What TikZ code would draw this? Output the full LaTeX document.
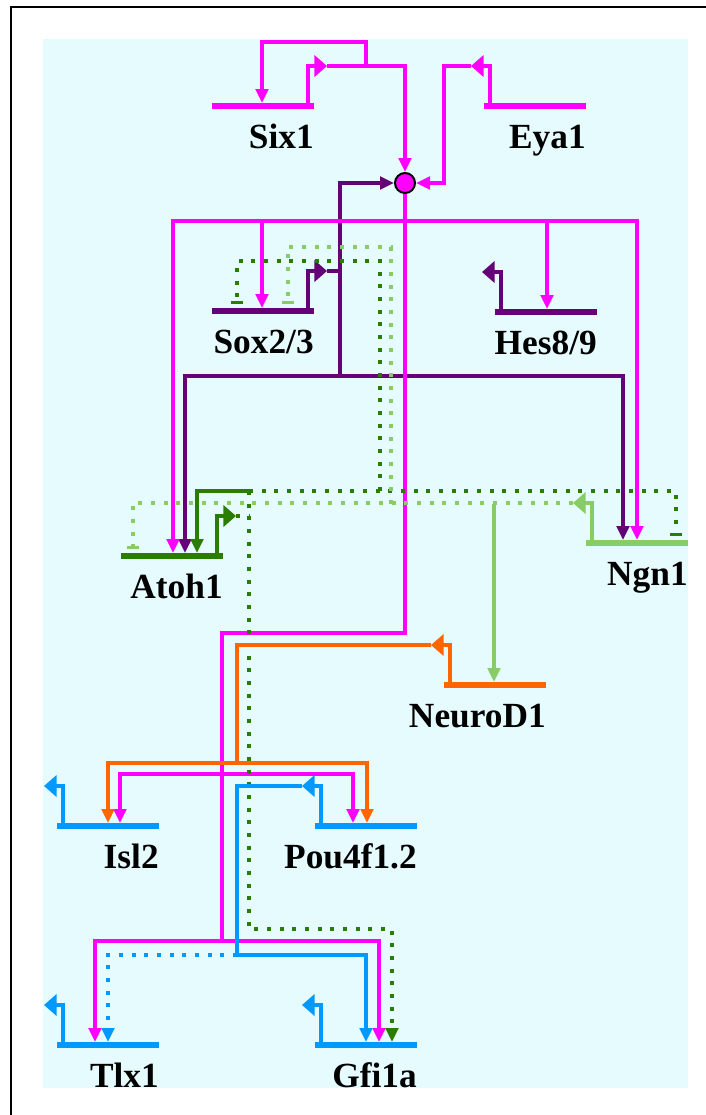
\documentclass[tikz,border=0pt]{standalone}
\usepackage{fontspec}
\setmainfont{Liberation Serif}
\usetikzlibrary{arrows.meta,calc}
\definecolor{grnmag}{HTML}{FF00FF}
\definecolor{grnpur}{HTML}{660077}
\definecolor{grndkg}{HTML}{2A7D00}
\definecolor{grnltg}{HTML}{88CC66}
\definecolor{grnorg}{HTML}{FF6600}
\definecolor{grnblu}{HTML}{0099FF}
\definecolor{grnbg}{HTML}{E6FBFE}
\tikzset{
  genebar/.style={fill=#1, inner sep=0pt, outer sep=0pt, minimum width=76.5pt, minimum height=4.5pt, anchor=west},
  promoter/.style={draw=#1, line width=3.4pt, -{Triangle[length=9.5pt,width=16pt]}},
  genelabel/.style={anchor=base east, inner sep=0pt, font=\fontsize{26.5}{30}\selectfont\bfseries},
  link/.style={line width=2.5pt},
  actlink/.style={link, -{Triangle[length=10.5pt,width=9.5pt]}},
  replink/.style={link, -{Bar[width=9pt]}, shorten >=3pt},
  dotlink/.style={dash pattern=on 3pt off 6.5pt},
  hub/.style={circle, draw=black, line width=1.5pt, fill=grnmag, minimum size=15pt, inner sep=0pt}
}
\begin{document}
\begin{tikzpicture}[x=0.75pt, y=-0.75pt]
  \useasboundingbox (0,0) rectangle (706,1115);
  \fill[grnbg] (43,39) rectangle (688,1088);
  \draw[line width=1pt] (706,7) -- (11,7) -- (11,1115);

  \node[genebar=grnmag] (six1) at (212,106) {};
  \node[genebar=grnmag] (eya1) at (484,106) {};
  \node[genebar=grnpur] (sox) at (212,311) {};
  \node[genebar=grnpur] (hes) at (495,312) {};
  \node[genebar=grndkg] (atoh1) at (121,556) {};
  \node[genebar=grnltg] (ngn1) at (586,543) {};
  \node[genebar=grnorg] (neurod1) at (444,685) {};
  \node[genebar=grnblu] (isl2) at (57,826) {};
  \node[genebar=grnblu] (pou) at (315,826) {};
  \node[genebar=grnblu] (tlx1) at (57,1045) {};
  \node[genebar=grnblu] (gfi1a) at (315,1045) {};
  \node[hub] (cir) at (405,183) {};

  \draw[promoter=grnmag] (six1.east) ++(-6,0) |- ++(19,-40) coordinate (six1-out);
  \draw[promoter=grnmag] (eya1.west) ++(6,0) |- ++(-19,-40) coordinate (eya1-out);
  \draw[promoter=grnpur] (sox.east) ++(-6,0) |- ++(19,-40) coordinate (sox-out);
  \draw[promoter=grnpur] (hes.west) ++(6,0) |- ++(-19,-40) coordinate (hes-out);
  \draw[promoter=grndkg] (atoh1.east) ++(-6,0) |- ++(19,-40) coordinate (atoh1-out);
  \draw[promoter=grnltg] (ngn1.west) ++(6,0) |- ++(-19,-40) coordinate (ngn1-out);
  \draw[promoter=grnorg] (neurod1.west) ++(6,0) |- ++(-19,-40) coordinate (neurod1-out);
  \draw[promoter=grnblu] (isl2.west) ++(6,0) |- ++(-19,-40) coordinate (isl2-out);
  \draw[promoter=grnblu] (pou.west) ++(6,0) |- ++(-19,-40) coordinate (pou-out);
  \draw[promoter=grnblu] (tlx1.west) ++(6,0) |- ++(-19,-40) coordinate (tlx1-out);
  \draw[promoter=grnblu] (gfi1a.west) ++(6,0) |- ++(-19,-40) coordinate (gfi1a-out);

  \node[genelabel] (six1-lbl) at ($(six1.east)+(0,42)$) {Six1};
  \node[genelabel] (eya1-lbl) at ($(eya1.east)+(0,42)$) {Eya1};
  \node[genelabel] (sox-lbl) at ($(sox.east)+(0,42)$) {Sox2/3};
  \node[genelabel] (hes-lbl) at ($(hes.east)+(0,42)$) {Hes8/9};
  \node[genelabel] (atoh1-lbl) at ($(atoh1.east)+(0,42)$) {Atoh1};
  \node[genelabel] (ngn1-lbl) at ($(ngn1.east)+(0,42)$) {Ngn1};
  \node[genelabel] (neurod1-lbl) at ($(neurod1.east)+(0,42)$) {NeuroD1};
  \node[genelabel] (isl2-lbl) at ($(isl2.east)+(0,42)$) {Isl2};
  \node[genelabel] (pou-lbl) at ($(pou.east)+(0,42)$) {Pou4f1.2};
  \node[genelabel] (tlx1-lbl) at ($(tlx1.east)+(0,42)$) {Tlx1};
  \node[genelabel] (gfi1a-lbl) at ($(gfi1a.east)+(0,42)$) {Gfi1a};

  \draw[actlink, grnmag] (six1-out) -| (cir.north);
  \draw[actlink, grnmag] (366,66) -- (366,42) -| (262,0 |- six1.north);
  \draw[actlink, grnmag] (eya1-out) -- ++(-27,0) |- (cir.east);

  \draw[link, grnpur] (sox-out) -- (340,0 |- sox-out);
  \draw[actlink, grnpur] (340,376) |- (cir.west);
  \draw[actlink, grnpur] (340,376) -| (185,0 |- atoh1.north);
  \draw[actlink, grnpur] (340,376) -| (623,0 |- ngn1.north);

  \draw[link, grnmag] (cir.south) |- (222,633) -- (222,941);
  \draw[actlink, grnmag] (405,221) -| (173,0 |- atoh1.north);
  \draw[actlink, grnmag] (405,221) -| (637,0 |- ngn1.north);
  \draw[actlink, grnmag] (262,221) -- (262,0 |- sox.north);
  \draw[actlink, grnmag] (547,221) -- (547,0 |- hes.north);
  \draw[actlink, grnmag] (222,774) -| (120,0 |- isl2.north);
  \draw[actlink, grnmag] (222,774) -| (353,0 |- pou.north);
  \draw[actlink, grnmag] (222,941) -| (95,0 |- tlx1.north);
  \draw[actlink, grnmag] (222,941) -| (379,0 |- gfi1a.north);

  \draw[link, grndkg, dotlink] (atoh1-out) -- (249,0 |- atoh1-out);
  \draw[actlink, grndkg] (249,491) -| (197,0 |- atoh1.north);
  \draw[replink, grndkg, dotlink] (249,491) -| (676,0 |- ngn1.north);
  \draw[replink, grndkg, dotlink] (380,491) |- (237,261) -- (237,0 |- sox.north);
  \draw[actlink, grndkg, dotlink] (249,491) |- (392,929) -- (392,0 |- gfi1a.north);

  \draw[replink, grnltg, dotlink] (ngn1-out) -| (133,0 |- atoh1.north);
  \draw[replink, grnltg, dotlink] (391,504) |- (288,247) -- (288,0 |- sox.north);
  \draw[actlink, grnltg] (494,504) -- (494,0 |- neurod1.north);

  \draw[link, grnorg] (neurod1-out) -| (237,763);
  \draw[actlink, grnorg] (237,763) -| (108,0 |- isl2.north);
  \draw[actlink, grnorg] (237,763) -| (367,0 |- pou.north);

  \draw[link, grnblu] (pou-out) -| (237,955);
  \draw[actlink, grnblu] (237,955) -| (366,0 |- gfi1a.north);
  \draw[actlink, grnblu, dotlink] (237,955) -| (108,0 |- tlx1.north);
\end{tikzpicture}
\end{document}
